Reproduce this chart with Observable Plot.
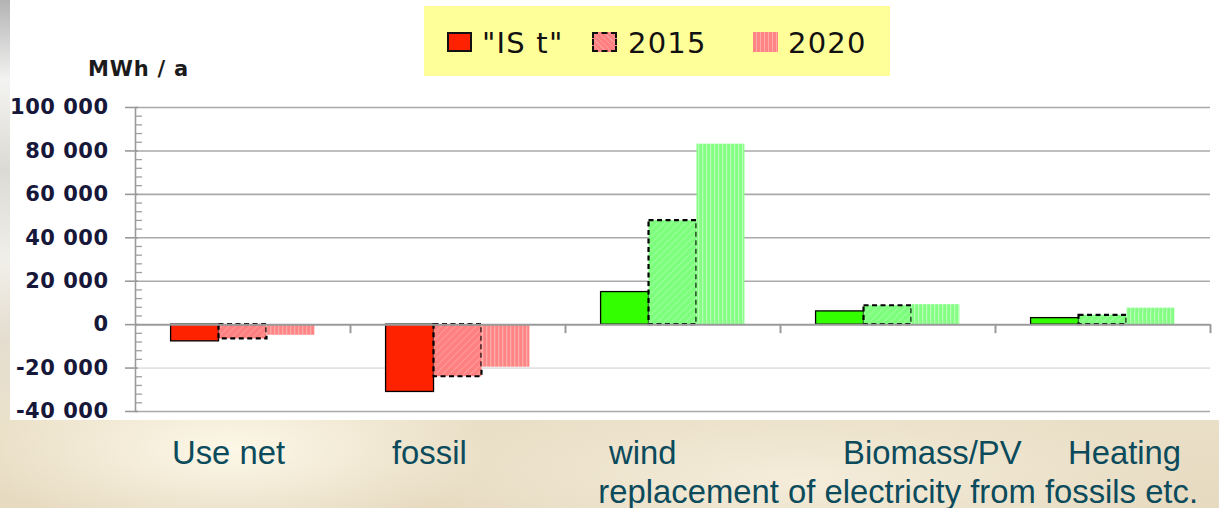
<!DOCTYPE html>
<html>
<head>
<meta charset="utf-8">
<script src="https://cdn.jsdelivr.net/npm/d3@7"></script>
<script src="https://cdn.jsdelivr.net/npm/@observablehq/plot@0.6"></script>
<style>
html, body { margin: 0; padding: 0; width: 1219px; height: 508px; overflow: hidden; }
body {
  position: relative;
  background:
    radial-gradient(ellipse 260px 90px at 230px 450px, rgba(255,250,235,0.9), rgba(255,250,235,0) 100%),
    radial-gradient(ellipse 400px 80px at 800px 480px, rgba(250,244,228,0.7), rgba(250,244,228,0) 100%),
    linear-gradient(180deg, #ece2cb 0%, #efe6d0 60%, #e6dac0 100%);
}
#leftstrip { position: absolute; left: 0; top: 0; width: 10px; height: 420px;
  background: linear-gradient(180deg, #b3b3b3 0px, #cfcfcf 35px, #f3f3f1 80px, #dcdad4 170px, #f1efe9 260px, #e4ddcf 340px, #ebe2cc 420px); }
#white { position: absolute; left: 10px; top: 0; width: 1209px; height: 420px; background: #fff; }
#chart { position: absolute; left: 10px; top: 0; }
#legend { position: absolute; left: 424px; top: 6px; width: 466px; height: 70px; background: #ffff99; }
.ltext { position: absolute; top: 23px; font-family: "DejaVu Sans", Verdana, sans-serif; font-size: 29px; line-height: 29px; letter-spacing: 1.2px; color: #111; }
.sw { position: absolute; top: 26px; width: 25px; height: 20px; box-sizing: border-box; }
.blabel { position: absolute; font-family: "Liberation Sans", Arial, sans-serif; font-size: 32.8px; line-height: 32px; color: #0b4b5c; white-space: nowrap; }
#unit { position: absolute; left: 88px; top: 59px; font-family: "DejaVu Sans", Verdana, sans-serif; font-weight: bold; font-size: 21px; line-height: 21px; letter-spacing: 0.8px; color: #1b1b1b; }
</style>
</head>
<body>
<div id="leftstrip"></div>
<div id="white"></div>
<div id="chart"></div>
<div id="unit"></div>
<div id="legend"></div>
<div id="bottom"></div>
<script>
// ---------------- data ----------------
const categories = ["Use net", "fossil", "wind", "Biomass/PV", "Heating"];
const seriesNames = ['"IS t"', "2015", "2020"];
const valuesIst  = [-7700, -31000, 15000, 6100, 3000];
const values2015 = [-6600, -24000, 47900, 8700, 4300];
const values2020 = [-4900, -19600, 83100, 9200, 7600];
const yTicks      = [-40000, -20000, 0, 20000, 40000, 60000, 80000, 100000];
const yTickLabels = ["-40 000", "-20 000", "0", "20 000", "40 000", "60 000", "80 000", "100 000"];
const unitLabel = "MWh / a";
const bottomLine1 = ["Use net", "fossil", "wind", "Biomass/PV", "Heating"];
const bottomLine2 = "replacement of electricity from fossils etc.";

// ---------------- layout ----------------
const barW = 0.223;
const groupPad = (1 - 3 * barW) / 2;
const seriesValues = [valuesIst, values2015, values2020];
const rows = [];
categories.forEach((c, i) => {
  seriesValues.forEach((arr, s) => rows.push({ cat: c, ci: i, s, series: seriesNames[s], value: arr[i] }));
});
const x1 = d => d.ci + groupPad + d.s * barW;
const x2 = d => d.ci + groupPad + (d.s + 1) * barW;
const minorTicks = d3.range(-40000, 100001, 4000).filter(v => !yTicks.includes(v));
const boundaries = d3.range(1, categories.length + 1);

const fills = {
  0: { neg: "#ff2200", pos: "#33ff00" },
  1: { neg: "url(#r2015)", pos: "url(#g2015)" },
  2: { neg: "url(#r2020)", pos: "url(#g2020)" }
};
const seriesStyle = {
  0: { stroke: "#000", strokeWidth: 1.3 },
  1: { stroke: "#000", strokeWidth: 2.2, strokeDasharray: "5,3.5" },
  2: { stroke: "none" }
};
function barMarks(s) {
  const data = rows.filter(d => d.s === s);
  return ["neg", "pos"].map(sign =>
    Plot.rect(data.filter(d => sign === "neg" ? d.value < 0 : d.value >= 0), {
      x1, x2, y1: () => 0, y2: "value",
      fill: fills[s][sign],
      ...seriesStyle[s]
    })
  );
}

const svg = Plot.plot({
  width: 1209,
  height: 420,
  marginLeft: 125,
  marginRight: 9,
  marginTop: 107,
  marginBottom: 9,
  style: {
    fontFamily: "DejaVu Sans, Verdana, sans-serif",
    fontSize: "21px",
    fontWeight: "bold",
    letterSpacing: "0.5px",
    color: "#17173a",
    background: "transparent",
    overflow: "visible"
  },
  x: { domain: [0, categories.length], axis: null },
  y: {
    domain: [-40000, 100000],
    ticks: yTicks,
    tickFormat: v => yTickLabels[yTicks.indexOf(v)],
    tickSize: 0,
    tickPadding: 27,
    label: null
  },
  marks: [
    Plot.ruleY(yTicks.filter(v => v > 0 || v === -40000), { stroke: "#a9a9a9", strokeWidth: 1.6 }),
    Plot.ruleY(yTicks.filter(v => v < 0 && v !== -40000), { stroke: "#cccccc", strokeWidth: 1 }),
    ...barMarks(0),
    ...barMarks(1),
    ...barMarks(2),
    Plot.ruleY([0], { stroke: "#9a9a9a", strokeWidth: 2 }),
    Plot.ruleX(boundaries, { y1: () => 0, y2: () => 0, insetBottom: -9, stroke: "#9a9a9a", strokeWidth: 2 }),
    Plot.ruleX([0], { y1: () => -40000, y2: () => 100000, stroke: "#9a9a9a", strokeWidth: 1.6 }),
    Plot.ruleY(yTicks, { x1: () => 0, x2: () => 0, insetLeft: -10, insetRight: -3, stroke: "#9a9a9a", strokeWidth: 1.6 }),
    Plot.ruleY(minorTicks, { x1: () => 0, x2: () => 0, insetLeft: 0, insetRight: -7, stroke: "#a0a0a0", strokeWidth: 1.3 })
  ]
});

d3.select(svg).insert("defs", ":first-child").html(`
  <pattern id="r2020" width="4" height="6" patternUnits="userSpaceOnUse">
    <rect width="4" height="6" fill="#ff8585"/><rect x="0" width="1.3" height="6" fill="#ffaaaa"/>
  </pattern>
  <pattern id="g2020" width="4" height="6" patternUnits="userSpaceOnUse">
    <rect width="4" height="6" fill="#84ff84"/><rect x="0" width="1.3" height="6" fill="#b4ffb4"/>
  </pattern>
  <pattern id="r2015" width="5" height="5" patternUnits="userSpaceOnUse" patternTransform="rotate(45)">
    <rect width="5" height="5" fill="#ff8080"/><rect width="1" height="5" fill="#ff9a9a"/>
  </pattern>
  <pattern id="g2015" width="5" height="5" patternUnits="userSpaceOnUse" patternTransform="rotate(45)">
    <rect width="5" height="5" fill="#7dff7d"/><rect width="1" height="5" fill="#9cff9c"/>
  </pattern>
`);
document.getElementById("chart").appendChild(svg);

// ---------------- texts ----------------
document.getElementById("unit").textContent = unitLabel;

const legend = document.getElementById("legend");
const legendLayout = [
  { sw: 23, tx: 58, style: "background:#ff2200;border:2px solid #111;" },
  { sw: 168, tx: 204, style: "background:repeating-linear-gradient(45deg,#ff8080 0 3px,#ff9a9a 3px 4px);border:2px dashed #111;" },
  { sw: 329, tx: 364, style: "background:repeating-linear-gradient(90deg,#ff8585 0 3px,#ffaaaa 3px 4px);" }
];
seriesNames.forEach((name, i) => {
  const L = legendLayout[i];
  const sw = document.createElement("div");
  sw.className = "sw";
  sw.style.cssText = `left:${L.sw}px;` + L.style;
  legend.appendChild(sw);
  const t = document.createElement("div");
  t.className = "ltext";
  t.style.left = L.tx + "px";
  t.textContent = name;
  legend.appendChild(t);
});

const bottom = document.getElementById("bottom");
const line1Left = [172, 392, 609, 843, 1068];
bottomLine1.forEach((txt, i) => {
  const d = document.createElement("div");
  d.className = "blabel";
  d.style.left = line1Left[i] + "px";
  d.style.top = "437px";
  d.textContent = txt;
  bottom.appendChild(d);
});
const l2 = document.createElement("div");
l2.className = "blabel";
l2.style.right = (1219 - 1198) + "px";
l2.style.top = "476px";
l2.textContent = bottomLine2;
bottom.appendChild(l2);
</script>
</body>
</html>
